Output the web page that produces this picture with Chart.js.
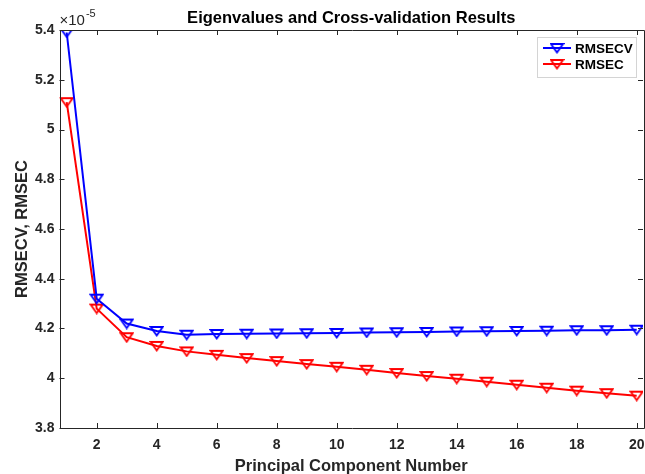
<!DOCTYPE html>
<html>
<head>
<meta charset="utf-8">
<script src="https://cdn.jsdelivr.net/npm/chart.js@4"></script>
<style>
  html, body { margin: 0; padding: 0; background: #fff; }
  #wrap { width: 645px; height: 474px; }
</style>
</head>
<body>
<div id="wrap"><canvas id="myChart" width="645" height="474"></canvas></div>
<script>
// datos (valores en unidades de 1e-5)
const components = [1, 2, 3, 4, 5, 6, 7, 8, 9, 10, 11, 12, 13, 14, 15, 16, 17, 18, 19, 20];
const rmsecv = [5.39, 4.32, 4.22, 4.19, 4.175, 4.178, 4.179, 4.18, 4.181, 4.182, 4.184, 4.185, 4.186, 4.188, 4.189, 4.19, 4.191, 4.193, 4.193, 4.195];
const rmsec = [5.11, 4.28, 4.165, 4.13, 4.108, 4.094, 4.081, 4.069, 4.057, 4.046, 4.034, 4.021, 4.009, 3.998, 3.986, 3.974, 3.962, 3.95, 3.94, 3.93];
const xTicks = [2, 4, 6, 8, 10, 12, 14, 16, 18, 20];
const yTicks = [3.8, 4, 4.2, 4.4, 4.6, 4.8, 5, 5.2, 5.4];
const seriesNames = ['RMSECV', 'RMSEC'];
const seriesColors = ['#0000ff', '#ff0000'];

const axisColor = '#262626';
const fontFamily = '"Liberation Sans", Arial, sans-serif';

// marcador triangulo invertido hueco (estilo MATLAB 'v')
function makeMarker(color) {
    const c = document.createElement('canvas');
    c.width = 15;
    c.height = 12;
    const g = c.getContext('2d');
    g.strokeStyle = color;
    g.lineWidth = 1.8;
    g.lineJoin = 'miter';
    g.beginPath();
    g.moveTo(1.5, 2);
    g.lineTo(13.5, 2);
    g.lineTo(7.5, 10.5);
    g.closePath();
    g.stroke();
    return c;
}
const markers = seriesColors.map(makeMarker);

function toPoints(values) {
    return components.map((x, i) => ({ x: x, y: values[i] }));
}

// ticks interiores, marco, etiquetas del eje x, titulos y leyenda
const matlabAxes = {
    id: 'matlabAxes',
    afterDraw(chart) {
        const ctx = chart.ctx;
        const a = chart.chartArea;
        const xs = chart.scales.x;
        const ys = chart.scales.y;
        ctx.save();
        ctx.strokeStyle = axisColor;
        ctx.lineWidth = 1;
        ctx.beginPath();
        ctx.rect(Math.round(a.left) + 0.5, Math.round(a.top) + 0.5, Math.round(a.right - a.left), Math.round(a.bottom - a.top));
        ctx.stroke();
        const tl = 5;
        ctx.beginPath();
        xTicks.forEach(v => {
            const px = Math.round(xs.getPixelForValue(v)) + 0.5;
            ctx.moveTo(px, a.bottom);
            ctx.lineTo(px, a.bottom - tl);
            ctx.moveTo(px, a.top);
            ctx.lineTo(px, a.top + tl);
        });
        yTicks.forEach(v => {
            const py = Math.round(ys.getPixelForValue(v)) + 0.5;
            ctx.moveTo(a.left, py);
            ctx.lineTo(a.left + tl, py);
            ctx.moveTo(a.right, py);
            ctx.lineTo(a.right - tl, py);
        });
        ctx.stroke();

        // etiquetas del eje x
        ctx.fillStyle = axisColor;
        ctx.font = 'bold 14px ' + fontFamily;
        ctx.textAlign = 'center';
        ctx.textBaseline = 'middle';
        xTicks.forEach(v => {
            ctx.fillText(String(v), xs.getPixelForValue(v), a.bottom + 17);
        });

        // titulo
        ctx.fillStyle = '#000';
        ctx.font = 'bold 16.5px ' + fontFamily;
        ctx.fillText('Eigenvalues and Cross-validation Results', (a.left + a.right) / 2, 18);

        // exponente
        ctx.fillStyle = axisColor;
        ctx.textAlign = 'left';
        ctx.font = '15px ' + fontFamily;
        ctx.fillText('\u00d710', a.left, 21);
        const w = ctx.measureText('\u00d710').width;
        ctx.font = '11px ' + fontFamily;
        ctx.fillText('-5', a.left + w + 1, 14);

        // leyenda
        const lx = 537, ly = 37, lw = 99, lh = 40;
        ctx.fillStyle = '#fff';
        ctx.fillRect(lx, ly, lw, lh);
        ctx.strokeStyle = '#d4d4d4';
        ctx.lineWidth = 1;
        ctx.strokeRect(lx + 0.5, ly + 0.5, lw, lh);
        seriesNames.forEach((name, i) => {
            const y = ly + 11 + i * 16;
            ctx.strokeStyle = seriesColors[i];
            ctx.lineWidth = 2;
            ctx.beginPath();
            ctx.moveTo(543, y);
            ctx.lineTo(571, y);
            ctx.stroke();
            ctx.drawImage(markers[i], 557 - 7.5, y - 6);
            ctx.fillStyle = '#000';
            ctx.font = 'bold 13.5px ' + fontFamily;
            ctx.textAlign = 'left';
            ctx.textBaseline = 'middle';
            ctx.fillText(name, 575, y + 1);
        });
        ctx.restore();
    }
};

const ctx = document.getElementById('myChart').getContext('2d');
new Chart(ctx, {
    type: 'line',
    data: {
        datasets: seriesNames.map((name, i) => ({
            label: name,
            data: toPoints(i === 0 ? rmsecv : rmsec),
            borderColor: seriesColors[i],
            backgroundColor: seriesColors[i],
            borderWidth: 2,
            pointStyle: markers[i],
            pointRadius: 6,
            tension: 0,
            fill: false
        }))
    },
    options: {
        responsive: false,
        animation: false,
        layout: { autoPadding: false, padding: { top: 30, right: 2, left: 0, bottom: 0 } },
        plugins: {
            legend: { display: false },
            title: { display: false },
            tooltip: { enabled: false }
        },
        scales: {
            x: {
                type: 'linear',
                min: 0.76,
                max: 20.21,
                afterBuildTicks: (s) => { s.ticks = xTicks.map(v => ({ value: v })); },
                afterFit: (s) => { s.height = 46; },
                grid: { display: false, drawTicks: false },
                border: { display: false },
                ticks: { display: false },
                title: {
                    display: true,
                    text: 'Principal Component Number',
                    color: axisColor,
                    font: { family: fontFamily, size: 16.5, weight: 'bold' },
                    padding: { top: 0, bottom: -2 }
                }
            },
            y: {
                min: 3.8,
                max: 5.4,
                afterBuildTicks: (s) => { s.ticks = yTicks.map(v => ({ value: v })); },
                afterFit: (s) => { s.width = 59.5; },
                grid: { display: false, drawTicks: false },
                border: { display: false },
                ticks: {
                    color: axisColor,
                    font: { family: fontFamily, size: 14, weight: 'bold' },
                    padding: 5,
                    callback: (v) => String(Number(v.toFixed(1)))
                },
                title: {
                    display: true,
                    text: 'RMSECV, RMSEC',
                    color: axisColor,
                    font: { family: fontFamily, size: 16.5, weight: 'bold' },
                    padding: { top: 13, bottom: 0 }
                }
            }
        }
    },
    plugins: [matlabAxes]
});
</script>
</body>
</html>
